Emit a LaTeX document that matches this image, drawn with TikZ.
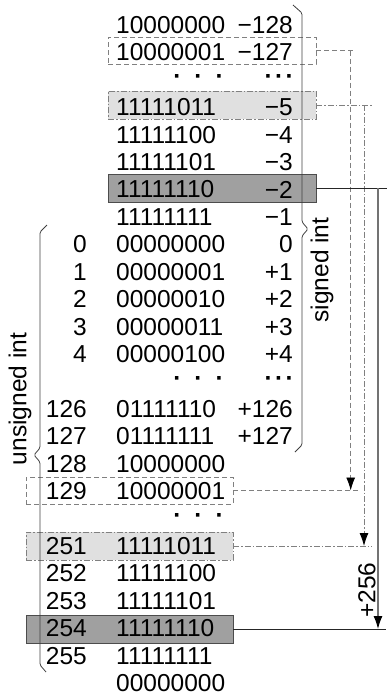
\documentclass[tikz,border=0pt]{standalone}
\usepackage{fontspec}
\setmainfont{Liberation Sans}
\usetikzlibrary{arrows.meta}
\definecolor{lightbox}{HTML}{E0E0E0}
\definecolor{darkbox}{HTML}{A0A0A0}
\definecolor{lineg}{HTML}{808080}
\begin{document}
\begin{tikzpicture}[x=1pt,y=-1pt,
  every node/.style={font=\fontsize{24.5}{29}\selectfont},
  bin/.style={anchor=west,inner sep=0pt},
  sgn/.style={anchor=east,inner sep=0pt},
  uns/.style={anchor=east,inner sep=0pt},
  rowbox/.style={draw,rectangle,inner sep=0pt,line width=0.9pt},
  dbox/.style={rowbox,draw=lineg,dash pattern=on 5pt off 3pt},
  ddbox/.style={rowbox,draw=lineg,fill=lightbox,dash pattern=on 6pt off 2pt on 1.5pt off 2pt},
  sbox/.style={rowbox,draw=black!70,fill=darkbox},
  brace/.style={draw=black!75,line width=0.8pt,rounded corners=1.5pt},
  tipstyle/.style={-{Latex[length=13pt,width=9pt,color=black]}},
  dconn/.style={draw=lineg,line width=0.9pt,dash pattern=on 5pt off 3pt},
  ddconn/.style={draw=lineg,line width=0.9pt,dash pattern=on 6pt off 2pt on 1.5pt off 2pt},
  sconn/.style={draw=black!85,line width=0.9pt},
  svconn/.style={draw=black!55,line width=1.2pt},
  dotsb/.style={anchor=east,inner sep=0pt,font=\fontsize{24.5}{29}\selectfont\bfseries}
]
\useasboundingbox (0,0) rectangle (391,699);
% boxes
\node[dbox, minimum width=208pt, minimum height=27pt] (box127) at (212,50.5) {};
\node[ddbox, minimum width=208pt, minimum height=28pt] (box5) at (212,105) {};
\node[sbox, minimum width=208pt, minimum height=28pt] (box2) at (212,188) {};
\node[dbox, minimum width=207pt, minimum height=27pt] (box129) at (129.5,490.5) {};
\node[ddbox, minimum width=207pt, minimum height=28pt] (box251) at (129.5,546) {};
\node[sbox, minimum width=207pt, minimum height=28pt] (box254) at (129.5,629) {};
% binary column
\foreach \i/\b in {0/10000000,1/10000001,3/11111011,4/11111100,5/11111101,6/11111110,7/11111111,8/00000000,9/00000001,10/00000010,11/00000011,12/00000100,14/01111110,15/01111111,16/10000000,17/10000001,19/11111011,20/11111100,21/11111101,22/11111110,23/11111111,24/00000000}
  \node[bin] (bin\i) at (116,{25+27.42*\i}) {\b};
% signed column
\foreach \i/\s in {0/−128,1/−127,3/−5,4/−4,5/−3,6/−2,7/−1,8/0,9/+1,10/+2,11/+3,12/+4,14/+126,15/+127}
  \node[sgn] (sgn\i) at (293,{25+27.42*\i}) {\s};
% unsigned column
\foreach \i/\u in {8/0,9/1,10/2,11/3,12/4,14/126,15/127,16/128,17/129,19/251,20/252,21/253,22/254,23/255}
  \node[uns] (uns\i) at (87,{25+27.42*\i}) {\u};
% dots
\node[dotsb] (bdots2) at (224,{25+27.42*2}) {·\hspace{13pt}·\hspace{13pt}·};
\node[dotsb] (sdots2) at (294,{25+27.42*2}) {·\hspace{2.3pt}·\hspace{2.3pt}·};
\node[dotsb] (bdots13) at (224,{25+27.42*13}) {·\hspace{13pt}·\hspace{13pt}·};
\node[dotsb] (sdots13) at (294,{25+27.42*13}) {·\hspace{2.3pt}·\hspace{2.3pt}·};
\node[dotsb] (bdots18) at (224,{25+27.42*18}) {·\hspace{13pt}·\hspace{13pt}·};
% braces
\draw[brace] (293,5) -- (302,13) -- (302,222) -- (308,229) -- (302,236) -- (302,445) -- (295,452);
\draw[brace] (47,225) -- (40,232) -- (40,448) -- (34,455) -- (40,462) -- (40,665) -- (46,672);
% labels
\node[rotate=90,inner sep=0pt] (lsigned) at (322,270) {signed int};
\node[rotate=90,inner sep=0pt] (lunsigned) at (20,399) {unsigned int};
\node[rotate=90,inner sep=0pt] (lplus) at (367,590) {+256};
% connector coordinates
\coordinate (v1) at (350.7,0);
\coordinate (v2) at (364,0);
\coordinate (v3) at (378,0);
\coordinate (e1u) at (354,0);
\coordinate (e1l) at (358,0);
\coordinate (e2u) at (372,0);
\coordinate (e2l) at (372,0);
\coordinate (e3u) at (387,0);
\coordinate (e3l) at (386,0);
% dashed connector
\draw[dconn] (box127.east) -- (box127.east -| e1u);
\draw[dconn] (box129.east) -- (box129.east -| e1l);
\draw[dconn,tipstyle] (box127.east -| v1) -- (box129.east -| v1);
% dash-dot connector
\draw[ddconn] (box5.east) -- (box5.east -| e2u);
\draw[ddconn] (box251.east) -- (box251.east -| e2l);
\draw[ddconn,tipstyle] (box5.east -| v2) -- (box251.east -| v2);
% solid connector
\draw[sconn] (box2.east) -- (box2.east -| e3u);
\draw[sconn] (box254.east) -- (box254.east -| e3l);
\draw[svconn,tipstyle] (box2.east -| v3) -- (box254.east -| v3);
\end{tikzpicture}
\end{document}
